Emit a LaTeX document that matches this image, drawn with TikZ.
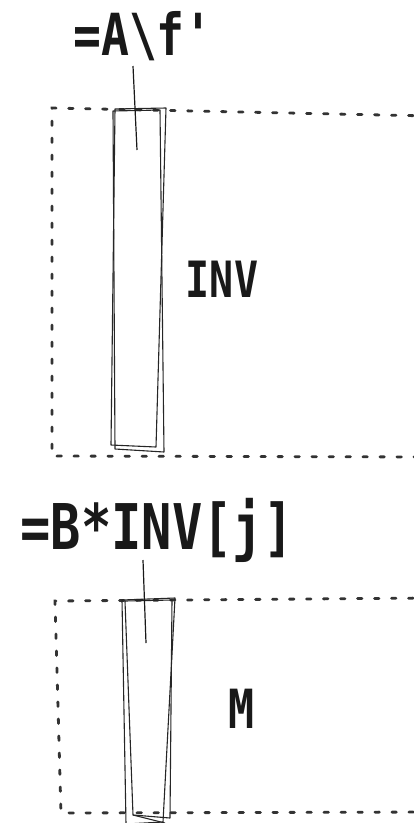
\documentclass[tikz,border=0pt]{standalone}
\usepackage{fontspec}
\newfontfamily\handfont[FakeStretch=0.8]{DejaVu Sans Mono}
\tikzset{
  hand/.style={font=\handfont\bfseries\fontsize{#1}{#1}\selectfont, inner sep=2pt, black!90},
  area/.style={line width=2.8pt, dash pattern=on 4.5pt off 12.5pt, line cap=round, black!80},
  sketch/.style={line width=1.1pt, black!85, line join=round},
  link/.style={line width=1.2pt, black!90}
}
\begin{document}
\begin{tikzpicture}[x=1pt,y=-1pt]
  \useasboundingbox (0,0) rectangle (414,823);
  \clip (0,0) rectangle (414,823);
  % Dotted areas (open to the right)
  \draw[area] (430,116) -- (52,108) -- (52,456) -- (430,457);
  \draw[area] (430,598) -- (55,601) -- (61,813) -- (430,812);
  % Upper column
  \draw[sketch] (115,109) -- (166,108) -- (156,447) -- (111,445) -- cycle;
  \draw[sketch] (113,111) -- (160,110) -- (164,452) -- (115,449) -- cycle;
  % Lower column
  \draw[sketch] (122,600) -- (175,598) -- (163,822) -- (126,824) -- cycle;
  \draw[sketch] (125,601) -- (172,600) -- (170,818) -- (133,815) -- cycle;
  \draw[sketch] (133,815) -- (165,823);
  % Labels
  \node[hand=58, anchor=base] (lblA) at (143,55) {=A\textbackslash f'};
  \node[hand=50, anchor=base] (lblInv) at (222,297) {INV};
  \node[hand=63, anchor=base] (lblB) at (157,549) {=B*INV[j]};
  \node[hand=54, anchor=base] (lblM) at (242,728) {M};
  % Connectors
  \coordinate (topA) at (133,66);
  \coordinate (tipA) at (137,150);
  \coordinate (topB) at (143,560);
  \coordinate (tipB) at (146,643);
  \draw[link] (topA) -- (tipA);
  \draw[link] (topB) -- (tipB);
\end{tikzpicture}
\end{document}
